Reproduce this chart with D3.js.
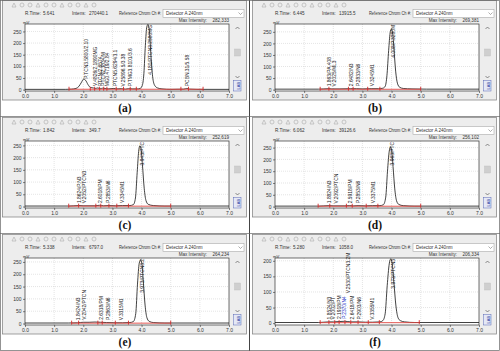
<!DOCTYPE html>
<html><head><meta charset="utf-8">
<script src="https://cdn.jsdelivr.net/npm/d3@7"></script>
<style>body{margin:0;background:#fff} svg{display:block;font-family:"Liberation Sans",Arial,sans-serif}</style>
</head><body><svg id="chart" width="500" height="351"></svg>
<script>
// ---------- data ----------
const panelIds = ["a","b","c","d","e","f"];
const rTimes = ["5.641","6.445","1.842","6.062","5.338","5.280"];
const intensValues = ["270440.1","13915.5","349.7","39126.6","6797.0","1058.0"];
const maxIntensities = ["282,333","269,381","252,619","256,102","264,234","206,334"];
const detectorName = "Detector A 240nm";
const yTopValues = [282, 284, 268, 278, 266, 209];
const yTicksA = [0,50,100,150,200,250];
const yTicksF = [0,50,100,150,200];
const xTicks = [0,1,2,3,4,5,6,7];

const traceA = [[0,1],[1.4,1],[1.6,2],[1.75,5],[1.85,14],[1.94,32],[2.01,45],[2.08,40],[2.16,22],[2.25,9],[2.35,7],[2.42,5],[2.5,7],[2.58,4],[2.66,6],[2.75,5],[2.85,3],[3.05,5],[3.15,3],[3.3,4],[3.45,2],[3.55,4],[3.7,3],[3.85,3],[3.95,5],[4.02,16],[4.08,70],[4.13,190],[4.18,270],[4.22,280],[4.27,250],[4.32,150],[4.38,55],[4.45,18],[4.55,7],[4.7,3],[5.0,1],[5.45,2],[5.55,5],[5.65,2],[5.9,1],[7,1]];
const traceB = [[0,2],[1.5,2],[1.85,4],[1.95,3],[2.2,3],[2.6,4],[2.8,4],[3.0,3],[3.3,4],[3.55,4],[3.7,6],[3.78,14],[3.84,60],[3.9,170],[3.95,245],[3.99,262],[4.03,250],[4.08,180],[4.14,80],[4.2,28],[4.28,10],[4.4,5],[4.7,3],[5.2,2],[7,2]];
const traceC = [[0,2],[1.5,2],[1.85,4],[2.0,3],[2.4,3],[2.55,5],[2.7,3],[2.85,4],[3.1,3],[3.35,4],[3.6,4],[3.72,8],[3.79,35],[3.85,140],[3.9,225],[3.94,248],[3.98,238],[4.03,170],[4.09,75],[4.15,25],[4.23,9],[4.4,4],[4.8,2],[7,2]];
const traceD = [[0,2],[1.5,2],[1.85,4],[2.0,3],[2.4,3],[2.55,4],[2.7,3],[2.85,4],[3.1,3],[3.35,4],[3.6,4],[3.72,8],[3.8,40],[3.86,150],[3.92,235],[3.96,252],[4.0,240],[4.05,170],[4.11,75],[4.17,25],[4.25,9],[4.4,4],[4.8,2],[7,2]];
const traceE = [[0,2],[1.5,2],[1.8,3],[2.0,5],[2.2,5],[2.4,6],[2.6,5],[2.8,4],[3.1,3],[3.35,3],[3.6,4],[3.72,8],[3.8,40],[3.86,160],[3.92,245],[3.97,258],[4.01,245],[4.06,170],[4.12,75],[4.18,25],[4.26,9],[4.4,4],[4.8,2],[7,2]];
const traceF = [[0,2],[1.5,2],[1.85,4],[2.0,4],[2.2,5],[2.4,6],[2.6,4],[2.85,4],[3.1,3],[3.35,3],[3.6,4],[3.7,8],[3.78,30],[3.85,120],[3.92,190],[3.97,206],[4.02,192],[4.08,130],[4.15,55],[4.22,18],[4.3,8],[4.45,4],[4.8,2],[7,2]];

const labelTimesA = [2.1,2.42,2.58,2.7,2.84,3.1,3.38,3.6,4.29,5.58];
const labelTimesB = [1.88,2.03,2.63,2.85,3.34,4.06];
const labelTimesC = [1.86,2.05,2.6,2.85,3.34,4.03];
const labelTimesD = [1.88,2.09,2.59,2.85,3.37,4.03];
const labelTimesE = [1.84,2.04,2.63,2.86,3.31,4.03];
const labelTimesF = [1.85,2.0,2.19,2.37,2.53,2.64,2.9,3.35,4.07];

const labelTextsA = ["P.TCN3.5800/2.10","V.4826/2.1890MG","PTCN/2.6574","PTCN2.3834/M","MG0.4719/2.84","PTCN5.6294/3.1","V.25896.5/3.38","P.TMG3.8101/3.6","4.180/PTCN3.2580MG","PCBN.31/5.58"];
const labelTextsB = ["1.863/PA.408","V.2025/ML3","2.6482/N3","P.2833/N6","V.3245M1","4.008/P.3280M"];
const labelTextsC = ["1.8624/P.N3","V.2052/PTCN3","2.6018/PM","P.2853/N6","V.3345M1","3.943/PTC"];
const labelTextsD = ["1.8824/N3","V.2092/PTCN","2.5918/PM","P.2853/N6","V.3375M1","3.963/PTC"];
const labelTextsE = ["1.8424/N3","V.2042/PTCN","2.6318/PM","P.2863/N6","V.3315M1","3.973/PTCN3.2"];
const labelTextsF = ["1.8524/N3","V.2002/PT","2.1918/PM","P.2370/N4","V.2530/PTCN3.2M","2.6418/PM","P.2903/N6","V.3355M1","3.973/PTCN3"];

const mainPeakIndex = [8,5,5,5,5,8];
const selectedLabelF = 3;   // drawn in blue
const stackedLabelF = 4;    // placed above its neighbour

const markersA = [1.51,2.24,2.39,2.56,2.7,2.81,3.13,3.38,3.61,3.82,5.35,5.61,6.11];
const markersB = [1.55,1.85,2.52,2.68,3.18,3.6,5.0];
const markersC = [1.5,1.84,2.43,2.6,2.88,3.15,3.55,5.0];
const markersD = [1.48,1.88,2.45,2.65,3.13,3.53,5.0];
const markersE = [1.6,1.84,2.5,2.65,3.1,3.55,5.0];
const markersF = [1.55,1.85,2.05,2.2,2.4,2.6,2.85,3.2,3.58,4.95];

const traces = [traceA,traceB,traceC,traceD,traceE,traceF];
const labelTimes = [labelTimesA,labelTimesB,labelTimesC,labelTimesD,labelTimesE,labelTimesF];
const labelTexts = [labelTextsA,labelTextsB,labelTextsC,labelTextsD,labelTextsE,labelTextsF];
const markers = [markersA,markersB,markersC,markersD,markersE,markersF];

// ---------- layout ----------
const svg = d3.select("#chart");
const colX = [0, 250];
const rowY = [0, 117, 234];
const PL = 25, PR = 229, PT = 24, PB = 91;

function valueAt(trace, t){
  const i = d3.bisector(d=>d[0]).left(trace, t);
  if(i<=0) return trace[0][1];
  if(i>=trace.length) return trace[trace.length-1][1];
  const a=trace[i-1], b=trace[i];
  return a[1]+(b[1]-a[1])*(t-a[0])/(b[0]-a[0]);
}

function drawPanel(idx){
  const g = svg.append("g").attr("transform",`translate(${colX[idx%2]},${rowY[Math.floor(idx/2)]})`);
  g.append("rect").attr("x",2.5).attr("y",0.5).attr("width",244).attr("height",99.5)
    .attr("fill","#ededed").attr("stroke","#8a8a8a").attr("stroke-width",0.8);
  for(let k=0;k<11;k++){
    const cx = 14 + k*8;
    if(k%3===0) g.append("path").attr("d",`M${cx-2},${7} L${cx},${3} L${cx+2},${7} Z`).attr("fill","none").attr("stroke","#b4b4b4").attr("stroke-width",0.7);
    else g.append("circle").attr("cx",cx).attr("cy",5).attr("r",2).attr("fill","none").attr("stroke","#b4b4b4").attr("stroke-width",0.7);
  }
  const ht = (x,y,s,anchor,len)=>{
    const t = g.append("text").attr("x",x).attr("y",y).attr("font-size",4.6).attr("fill","#333").attr("text-anchor",anchor||"start").text(s);
    if(len) t.attr("textLength",len).attr("lengthAdjust","spacingAndGlyphs");
    return t;
  };
  ht(25,15,"R.Time:"); ht(43,15,rTimes[idx]);
  ht(72,15,"Intens:"); ht(89,15,intensValues[idx]);
  ht(119,15,"Reference Chrom Ch #:",null,42);
  g.append("rect").attr("x",163).attr("y",9.5).attr("width",81).attr("height",8).attr("fill","#fff").attr("stroke","#aaa").attr("stroke-width",0.6);
  g.append("text").attr("x",166).attr("y",15.2).attr("font-size",4.6).attr("fill","#333").text(detectorName);
  g.append("path").attr("d","M238.5,12.5 L240.5,14.5 L242.5,12.5").attr("fill","none").attr("stroke","#777").attr("stroke-width",0.6);
  ht(207,22.3,"Max Intensity:","end"); ht(229,22.3,maxIntensities[idx],"end");

  const x = d3.scaleLinear().domain([0,7]).range([PL,PR]);
  const y = d3.scaleLinear().domain([-6, yTopValues[idx]]).range([PB,PT]);
  const yTicks = idx===5 ? yTicksF : yTicksA;

  g.append("rect").attr("x",PL).attr("y",PT).attr("width",PR-PL).attr("height",PB-PT).attr("fill","#fff");
  g.append("g").selectAll("line").data(xTicks.slice(1,-1)).join("line")
    .attr("x1",d=>x(d)).attr("x2",d=>x(d)).attr("y1",PT).attr("y2",PB)
    .attr("stroke","#c8c8c8").attr("stroke-width",0.5).attr("stroke-dasharray","1,1");
  g.append("g").selectAll("line").data(yTicks.slice(1)).join("line")
    .attr("x1",PL).attr("x2",PR).attr("y1",d=>y(d)).attr("y2",d=>y(d))
    .attr("stroke","#c8c8c8").attr("stroke-width",0.5).attr("stroke-dasharray","1,1");

  const xa = g.append("g").attr("transform",`translate(0,${PB})`)
    .call(d3.axisBottom(x).tickValues(xTicks).tickFormat(d3.format(".1f")).tickSize(2).tickPadding(1.5));
  const ya = g.append("g").attr("transform",`translate(${PL},0)`)
    .call(d3.axisLeft(y).tickValues(yTicks).tickSize(2).tickPadding(1.5));
  [xa,ya].forEach(a=>{
    a.select(".domain").remove();
    a.selectAll("line").attr("stroke","#333").attr("stroke-width",0.6);
    a.selectAll("text").attr("font-size",5).attr("fill","#333").attr("font-family","Liberation Sans, Arial, sans-serif");
  });
  g.append("rect").attr("x",PL).attr("y",PT).attr("width",PR-PL).attr("height",PB-PT)
    .attr("fill","none").attr("stroke","#333").attr("stroke-width",0.7);
  g.append("text").attr("x",PL-2).attr("y",PT-0.5).attr("font-size",4.2).attr("fill","#333").text("mV");

  const line = d3.line().x(d=>x(d[0])).y(d=>y(d[1])).curve(d3.curveMonotoneX);
  const tr = traces[idx];
  g.append("path").datum(tr).attr("d",line).attr("fill","none").attr("stroke","#111").attr("stroke-width",0.8);

  const mk = markers[idx];
  const baseY = y(1.5);
  g.append("line").attr("x1",x(mk[0])).attr("x2",x(mk[mk.length-1])).attr("y1",baseY).attr("y2",baseY)
    .attr("stroke","#e0443e").attr("stroke-width",0.9);
  g.append("g").selectAll("line").data(mk).join("line")
    .attr("x1",d=>x(d)).attr("x2",d=>x(d)).attr("y1",baseY-2.5).attr("y2",baseY+1.5)
    .attr("stroke","#d42a2a").attr("stroke-width",0.9);

  const lt = labelTimes[idx], lx = labelTexts[idx];
  let prevTop = null;
  lt.forEach((t,k)=>{
    const ax = x(t)+1.7;
    const isMain = k===mainPeakIndex[idx];
    let startY, anchor;
    if(isMain){ startY = PT+1; anchor="end"; }
    else {
      startY = Math.min(y(valueAt(tr,t)) - 2.5, PB-4);
      anchor="start";
      if(idx===5 && k===stackedLabelF && prevTop!==null) startY = prevTop - 3;
    }
    const txt = g.append("text").attr("transform",`translate(${ax},${startY}) rotate(-90)`)
      .attr("font-size",4.9).attr("text-anchor",anchor)
      .attr("fill",(idx===5 && k===selectedLabelF)?"#2230c8":"#222").text(lx[k]);
    const len = txt.node().getComputedTextLength();
    prevTop = anchor==="start" ? startY - len : startY;
  });

  g.append("path").attr("d","M235.5,29 L237.5,27 L239.5,29").attr("fill","none").attr("stroke","#444").attr("stroke-width",0.6);
  g.append("rect").attr("x",234.5).attr("y",49).attr("width",6).attr("height",7).attr("fill","#cfcfcf").attr("stroke","#bdbdbd").attr("stroke-width",0.4);
  g.append("path").attr("d","M235.5,76 L237.5,78 L239.5,76").attr("fill","none").attr("stroke","#444").attr("stroke-width",0.6);
  g.append("rect").attr("x",233.5).attr("y",80.5).attr("width",7.5).attr("height",10.5).attr("fill","#e4e8f6").attr("stroke","#5a68b8").attr("stroke-width",0.5);
  g.append("text").attr("transform","translate(239.5,89.5) rotate(-90)").attr("font-size",4).attr("fill","#2a3aa0").text("LAB");

  g.append("text").attr("x",125).attr("y",112).attr("text-anchor","middle")
    .attr("font-family","Liberation Serif, Times New Roman, serif").attr("font-weight","bold").attr("font-size",11.5)
    .attr("fill","#111").text(`(${panelIds[idx]})`);
}

panelIds.forEach((p,i)=>drawPanel(i));

svg.append("line").attr("x1",249.5).attr("x2",249.5).attr("y1",0).attr("y2",351).attr("stroke","#444").attr("stroke-width",1);
[116.5,233.5].forEach(yy=>svg.append("line").attr("x1",0).attr("x2",500).attr("y1",yy).attr("y2",yy).attr("stroke","#666").attr("stroke-width",0.7));
svg.append("rect").attr("x",0.5).attr("y",0.5).attr("width",499).attr("height",350).attr("fill","none").attr("stroke","#666").attr("stroke-width",0.7);
</script></body></html>
